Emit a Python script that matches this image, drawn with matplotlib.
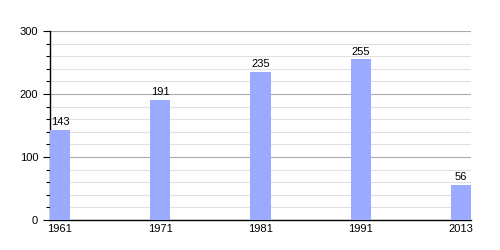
import matplotlib
matplotlib.use('Agg')
import matplotlib.pyplot as plt
import numpy as np
from matplotlib.ticker import MultipleLocator

plt.rcParams['font.family'] = ['Liberation Sans', 'DejaVu Sans']

years = ['1961', '1971', '1981', '1991', '2013']
population = [143, 191, 235, 255, 56]

fig = plt.figure(figsize=(5, 2.5), dpi=100)
ax = fig.add_axes([0.1, 0.12, 0.842, 0.756])

pos = np.arange(len(years))
width = 0.2
ax.bar(pos, population, width=width, align='edge', color='#99aaff', zorder=3)
for p, v in zip(pos, population):
    ax.text(p + width / 2, v + 4, str(v), ha='center', va='bottom', fontsize=8)

ax.set_xlim(0, 4.2)
ax.set_ylim(0, 300)
ax.set_xticks(pos + width / 2)
ax.set_xticklabels(years, fontsize=8)
ax.yaxis.set_major_locator(MultipleLocator(100))
ax.yaxis.set_minor_locator(MultipleLocator(20))
ax.tick_params(axis='y', labelsize=8, length=5, width=0.8)
ax.tick_params(axis='y', which='minor', length=3, width=0.8)
ax.tick_params(axis='x', length=0, pad=3)
ax.grid(axis='y', which='major', color='#aaaaaa', linewidth=0.8, zorder=0)
ax.grid(axis='y', which='minor', color='#e0e0e0', linewidth=0.8, zorder=0)
for s in ['top', 'right']:
    ax.spines[s].set_visible(False)
ax.spines['left'].set_linewidth(1)
ax.spines['bottom'].set_linewidth(1)

fig.savefig('out.png')
